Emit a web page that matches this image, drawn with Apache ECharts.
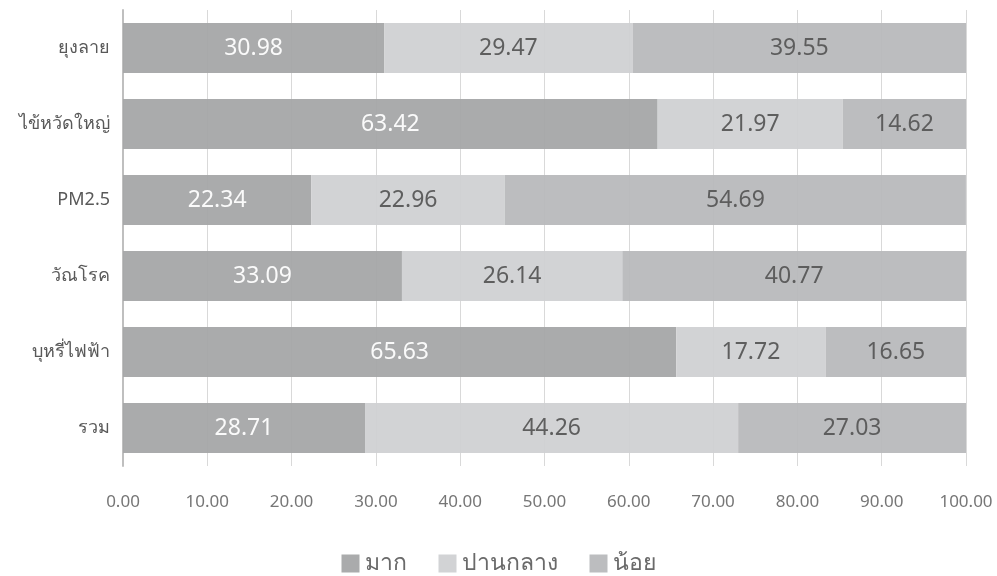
<!DOCTYPE html>
<html>
<head>
<meta charset="utf-8">
<script src="https://cdn.jsdelivr.net/npm/echarts@6/dist/echarts.min.js"></script>
<style>
  html, body { margin: 0; padding: 0; background: #fff; }
  #main { width: 997px; height: 576px; }
</style>
</head>
<body>
<div id="main"></div>
<script>
    const categories = ['ยุงลาย', 'ไข้หวัดใหญ่', 'PM2.5', 'วัณโรค', 'บุหรี่ไฟฟ้า', 'รวม']
    const seriesNames = ['มาก', 'ปานกลาง', 'น้อย']
    const mak = [30.98, 63.42, 22.34, 33.09, 65.63, 28.71]
    const panklang = [29.47, 21.97, 22.96, 26.14, 17.72, 44.26]
    const noi = [39.55, 14.62, 54.69, 40.77, 16.65, 27.03]

    const colors = ['#a5a6a8', '#d0d1d3', '#b8b9bc']
    const labelColors = ['#ffffff', '#595959', '#595959']
    const font = '"Noto Sans", sans-serif'

    let chart = echarts.init(document.getElementById('main'));
    chart.setOption({
        animation: false,
        textStyle: { fontFamily: font },
        grid: { left: 123, right: 31, top: 10, bottom: 110, containLabel: false },
        legend: {
            bottom: -4,
            itemWidth: 18,
            itemHeight: 18,
            itemGap: 32,
            icon: 'rect',
            textStyle: { fontSize: 23, color: '#6a6a6a', fontFamily: font },
            data: seriesNames
        },
        xAxis: {
            type: 'value',
            min: 0,
            max: 100,
            interval: 10,
            axisLine: { show: false },
            axisTick: { show: false },
            splitLine: { lineStyle: { color: '#d9d9d9', width: 1 } },
            axisLabel: {
                margin: 28,
                fontSize: 17,
                color: '#767676',
                formatter: v => v.toFixed(2)
            }
        },
        yAxis: {
            type: 'category',
            inverse: true,
            data: categories,
            axisLine: { show: true, lineStyle: { color: '#bfbfbf', width: 2 } },
            axisTick: { show: false },
            axisLabel: { margin: 13, fontSize: 18, color: '#595959' }
        },
        series: [mak, panklang, noi].map((d, i) => ({
            name: seriesNames[i],
            type: 'bar',
            stack: 'all',
            barWidth: '66%',
            itemStyle: { color: colors[i], opacity: 0.95 },
            label: {
                show: true,
                position: 'inside',
                fontSize: 23,
                color: labelColors[i],
                formatter: p => p.value.toFixed(2)
            },
            data: d
        }))
    });
</script>
</body>
</html>
